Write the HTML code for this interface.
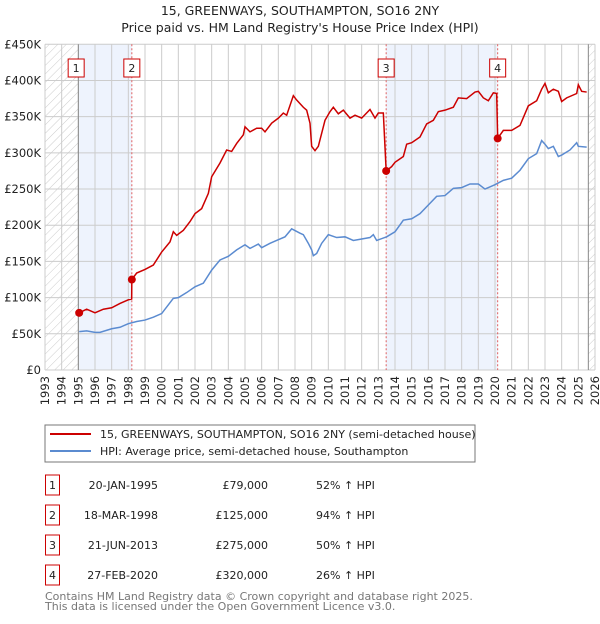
<!DOCTYPE html>
<html><head><meta charset="utf-8"><style>
body{margin:0;background:#fff;font-family:"DejaVu Sans","Liberation Sans",sans-serif;}
svg text{font-family:"DejaVu Sans","Liberation Sans",sans-serif;}
</style></head><body>
<svg id="c" width="600" height="620" xmlns="http://www.w3.org/2000/svg">
<defs><pattern id="hatch" width="6" height="6" patternUnits="userSpaceOnUse" patternTransform="rotate(45)"><line x1="0" y1="0" x2="0" y2="6" stroke="#ccc" stroke-width="1"/></pattern></defs>
<text x="300" y="15" text-anchor="middle" font-size="12.5" fill="#222">15, GREENWAYS, SOUTHAMPTON, SO16 2NY</text>
<text x="300" y="32" text-anchor="middle" font-size="12.5" fill="#222">Price paid vs. HM Land Registry's House Price Index (HPI)</text>
<g id="plot"></g>
<rect x="45" y="425" width="430" height="37" fill="#fff" stroke="#777"/>
<line x1="50" y1="434" x2="91" y2="434" stroke="#cc0000" stroke-width="2"/>
<text x="100" y="438" font-size="11" fill="#222">15, GREENWAYS, SOUTHAMPTON, SO16 2NY (semi-detached house)</text>
<line x1="50" y1="451" x2="91" y2="451" stroke="#5b8bd0" stroke-width="2"/>
<text x="100" y="455" font-size="11" fill="#222">HPI: Average price, semi-detached house, Southampton</text>
<g id="table" font-size="11" fill="#222"></g>
<text x="45" y="600" font-size="11" fill="#777">Contains HM Land Registry data © Crown copyright and database right 2025.</text>
<text x="45" y="610" font-size="11" fill="#777">This data is licensed under the Open Government Licence v3.0.</text>
</svg>
<script>
const hpiYears=[1995.05,1995.5,1996,1996.3,1997,1997.5,1998,1998.5,1999,1999.5,2000,2000.7,2001,2001.5,2002,2002.5,2003,2003.5,2004,2004.5,2005,2005.3,2005.8,2006,2006.5,2007,2007.4,2007.8,2008.3,2008.5,2008.8,2009,2009.1,2009.3,2009.6,2010,2010.5,2011,2011.5,2012,2012.5,2012.7,2012.9,2013.5,2014,2014.5,2015,2015.5,2016,2016.5,2017,2017.5,2018,2018.5,2019,2019.4,2020,2020.5,2021,2021.5,2022,2022.5,2022.8,2023,2023.2,2023.5,2023.8,2024,2024.5,2024.9,2025,2025.5];
const hpiValues=[53,54,52,52,57,59,64,67,69,73,78,99,100,107,115,120,138,152,157,166,173,168,174,169,175,180,184,195,189,187,175,166,158,161,175,187,183,184,179,181,183,187,179,184,191,207,209,216,228,240,241,251,252,257,257,250,256,262,265,276,292,299,317,312,306,309,295,297,304,314,309,308];
const priceYears=[1995.05,1995.5,1996,1996.5,1997,1997.5,1998,1998.2,1998.21,1998.5,1999,1999.5,2000,2000.5,2000.7,2000.9,2001.3,2001.7,2002,2002.4,2002.8,2003,2003.5,2003.9,2004.2,2004.5,2004.9,2005,2005.3,2005.7,2006,2006.2,2006.6,2007,2007.3,2007.5,2007.9,2008.1,2008.5,2008.7,2008.9,2009,2009.2,2009.4,2009.8,2010.1,2010.3,2010.6,2010.9,2011.3,2011.6,2012,2012.5,2012.8,2013,2013.3,2013.47,2013.8,2014,2014.5,2014.7,2015,2015.5,2015.9,2016.3,2016.6,2017,2017.5,2017.8,2018.3,2018.8,2019,2019.3,2019.6,2019.9,2020.1,2020.16,2020.5,2021,2021.5,2022,2022.5,2022.8,2023,2023.2,2023.5,2023.8,2024,2024.3,2024.9,2025,2025.2,2025.5];
const priceValues=[79,84,79,84,86,92,97,98,125,134,139,145,163,177,191,186,193,205,216,223,244,267,286,304,302,313,325,336,329,334,334,329,341,348,355,352,379,373,363,359,341,309,303,309,345,357,363,354,359,348,352,348,360,348,355,355,275,281,287,295,312,314,322,340,345,357,359,363,376,375,384,385,376,372,383,382,320,331,331,338,365,372,388,396,383,388,385,371,376,382,394,385,384];
const saleLabels=["1","2","3","4"];
const saleYears=[1995.05,1998.21,2013.47,2020.16];
const saleValues=[79,125,275,320];
const saleDates=["20-JAN-1995","18-MAR-1998","21-JUN-2013","27-FEB-2020"];
const salePrices=["£79,000","£125,000","£275,000","£320,000"];
const saleHpi=["52% ↑ HPI","94% ↑ HPI","50% ↑ HPI","26% ↑ HPI"];
const yTicks=[0,50,100,150,200,250,300,350,400,450];
const yTickLabels=["£0","£50K","£100K","£150K","£200K","£250K","£300K","£350K","£400K","£450K"];
const xTicks=[1993,1994,1995,1996,1997,1998,1999,2000,2001,2002,2003,2004,2005,2006,2007,2008,2009,2010,2011,2012,2013,2014,2015,2016,2017,2018,2019,2020,2021,2022,2023,2024,2025,2026];

const X0=45,X1=595,Y0=370,Y1=44.3;
const xs=y=>X0+(y-1993)/33*(X1-X0);
const ys=v=>Y0-v/450*(Y0-Y1);
const NS="http://www.w3.org/2000/svg";
const plot=document.getElementById('plot');
function mk(tag,attrs,parent){const e=document.createElementNS(NS,tag);for(const k in attrs)e.setAttribute(k,attrs[k]);(parent||plot).appendChild(e);return e;}

let e;
e=mk('rect',{x:xs(saleYears[0]),y:Y1,width:xs(saleYears[1])-xs(saleYears[0]),height:Y0-Y1,fill:'#eef3fd'});


e=mk('rect',{x:xs(saleYears[2]),y:Y1,width:xs(saleYears[3])-xs(saleYears[2]),height:Y0-Y1,fill:'#eef3fd'});


e=mk('rect',{x:X0,y:Y1,width:xs(1995)-X0,height:Y0-Y1,fill:'url(#hatch)'});


e=mk('rect',{x:xs(2025.6),y:Y1,width:X1-xs(2025.6),height:Y0-Y1,fill:'url(#hatch)'});



yTicks.forEach((v,i)=>{
 e=mk('line',{x1:X0,x2:X1,y1:ys(v),y2:ys(v),stroke:'#ccc','stroke-width':1});
 
 
 e=mk('text',{x:X0-4,y:ys(v)+4,'text-anchor':'end','font-size':11.5,fill:'#222'});
 e.textContent=yTickLabels[i];
 
 
});
xTicks.forEach(y=>{
 e=mk('line',{x1:xs(y),x2:xs(y),y1:Y1,y2:Y0,stroke:'#ccc','stroke-width':1});
 
 
 e=mk('text',{x:0,y:0,'text-anchor':'end','font-size':11.5,fill:'#222',transform:`translate(${xs(y)+4},${Y0+6}) rotate(-90)`});
 e.textContent=y;
 
 
});
e=mk('line',{x1:xs(1995),x2:xs(1995),y1:Y1,y2:Y0,stroke:'#888'});


e=mk('line',{x1:xs(2025.6),x2:xs(2025.6),y1:Y1,y2:Y0,stroke:'#888'});


for(let i=1;i<saleYears.length;i++){
 e=mk('line',{x1:xs(saleYears[i]),x2:xs(saleYears[i]),y1:Y1,y2:Y0,stroke:'#e06060','stroke-dasharray':'2,2'});
 
 
}
e=mk('polyline',{points:hpiYears.map((y,i)=>xs(y)+','+ys(hpiValues[i])).join(' '),fill:'none',stroke:'#5b8bd0','stroke-width':1.5});


e=mk('polyline',{points:priceYears.map((y,i)=>xs(y)+','+ys(priceValues[i])).join(' '),fill:'none',stroke:'#cc0000','stroke-width':1.5});


saleYears.forEach((y,i)=>{
 e=mk('circle',{cx:xs(y),cy:ys(saleValues[i]),r:4,fill:'#cc0000'});
 
 
 e=mk('rect',{x:xs(y)-8-(i==0?3:0),y:59,width:16,height:18,fill:'#fff',stroke:'#cc0000'});
 
 
 e=mk('text',{x:xs(y)-(i==0?3:0),y:72,'text-anchor':'middle','font-size':11,fill:'#222'});
 e.textContent=saleLabels[i];
 
 
});
const tb=document.getElementById('table');
saleLabels.forEach((l,i)=>{
 const cy=485+i*30;
 e=mk('rect',{x:45.5,y:cy-10,width:14,height:20,fill:'none',stroke:'#cc0000'},tb);
 
 
 e=mk('text',{x:52.5,y:cy+4,'text-anchor':'middle'},tb);e.textContent=l;
 
 
 e=mk('text',{x:158,y:cy+4,'text-anchor':'end'},tb);e.textContent=saleDates[i];
 
 
 e=mk('text',{x:268,y:cy+4,'text-anchor':'end'},tb);e.textContent=salePrices[i];
 
 
 e=mk('text',{x:316,y:cy+4},tb);e.textContent=saleHpi[i];
 
 
});
</script>
</body></html>
